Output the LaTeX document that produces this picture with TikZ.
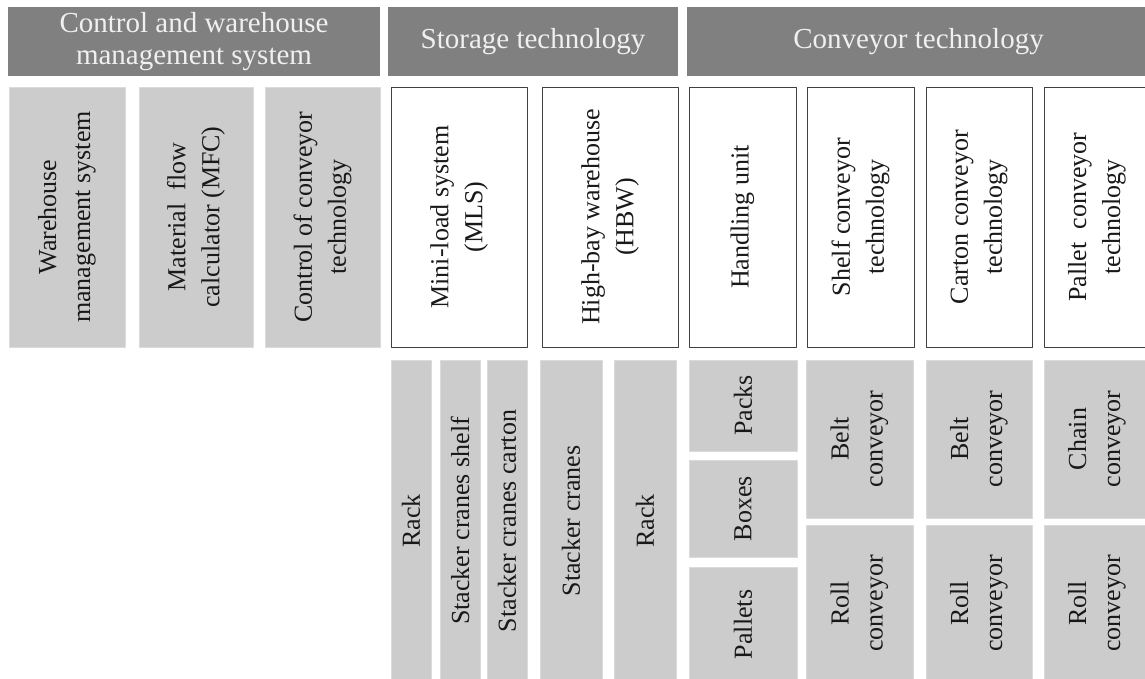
\documentclass[tikz,border=0pt]{standalone}
\usepackage{fontspec}
\setmainfont{Liberation Serif}
\usepackage{xcolor}
\usepackage{tikz}

\begin{document}
\begin{tikzpicture}[x=1pt,y=-1pt,line join=round,
    head/.style={rectangle,fill=gray,text=white!94!black,inner sep=0pt,outer sep=0pt,align=center,font=\fontsize{29}{32}\selectfont},
    cell/.style={rectangle,fill=gray!40,draw=gray!28,line width=0.5pt,inner sep=0pt,outer sep=0pt,rotate=90,align=center,text=black!90,font=\fontsize{26}{34}\selectfont},
    frame/.style={cell,fill=white,draw=black!75,line width=0.9pt}]
  \useasboundingbox (0,0) rectangle (1145,679);
  % header row
  \node[head,minimum width=372pt,minimum height=69pt] (hctl) at (194,41.5) {Control and warehouse\\management system};
  \node[head,minimum width=290pt,minimum height=69pt] (hsto) at (533,41.5) {Storage technology};
  \node[head,minimum width=463pt,minimum height=69pt] (hcon) at (918.5,41.5) {Conveyor technology};
  % systems
  \node[cell,minimum width=260pt,minimum height=116pt] (wms) at (67,217) {Warehouse\\management system};
  \node[cell,minimum width=260pt,minimum height=114pt] (mfc) at (196,217) {Material\ \ flow\\calculator (MFC)};
  \node[cell,minimum width=260pt,minimum height=115pt] (ctl) at (322.5,217) {Control of conveyor\\technology};
  \node[frame,minimum width=260pt,minimum height=136pt] (mls) at (459,217) {Mini-load system\\(MLS)};
  \node[frame,minimum width=260pt,minimum height=136pt] (hbw) at (610,217) {High-bay warehouse\\(HBW)};
  \node[frame,minimum width=260pt,minimum height=107pt] (hu) at (742.5,217) {Handling unit};
  \node[frame,minimum width=260pt,minimum height=107pt] (scv) at (860.5,217) {Shelf conveyor\\technology};
  \node[frame,minimum width=260pt,minimum height=106pt] (ccv) at (979,217) {Carton conveyor\\technology};
  \node[frame,minimum width=260pt,minimum height=106pt] (pcv) at (1097,217) {Pallet\ \ conveyor\\technology};
  % components
  \node[cell,minimum width=322pt,minimum height=40pt] (rack1) at (411,521) {Rack};
  \node[cell,minimum width=322pt,minimum height=40pt] (scs) at (460,521) {Stacker cranes shelf};
  \node[cell,minimum width=322pt,minimum height=40pt] (scc) at (507,521) {Stacker cranes carton};
  \node[cell,minimum width=322pt,minimum height=62pt] (stc) at (571,521) {Stacker cranes};
  \node[cell,minimum width=322pt,minimum height=62pt] (rack2) at (645,521) {Rack};
  \node[cell,minimum width=91pt,minimum height=108pt] (packs) at (743,405.5) {Packs};
  \node[cell,minimum width=97pt,minimum height=108pt] (boxes) at (743,508.5) {Boxes};
  \node[cell,minimum width=115pt,minimum height=108pt] (pallets) at (743,624.5) {Pallets};
  \node[cell,minimum width=158pt,minimum height=107pt] (belt1) at (859.5,439) {Belt\\conveyor};
  \node[cell,minimum width=157pt,minimum height=107pt] (roll1) at (859.5,603.5) {Roll\\conveyor};
  \node[cell,minimum width=158pt,minimum height=106pt] (belt2) at (979,439) {Belt\\conveyor};
  \node[cell,minimum width=157pt,minimum height=106pt] (roll2) at (979,603.5) {Roll\\conveyor};
  \node[cell,minimum width=158pt,minimum height=106pt] (chain) at (1097,439) {Chain\\conveyor};
  \node[cell,minimum width=157pt,minimum height=106pt] (roll3) at (1097,603.5) {Roll\\conveyor};
\end{tikzpicture}
\end{document}
